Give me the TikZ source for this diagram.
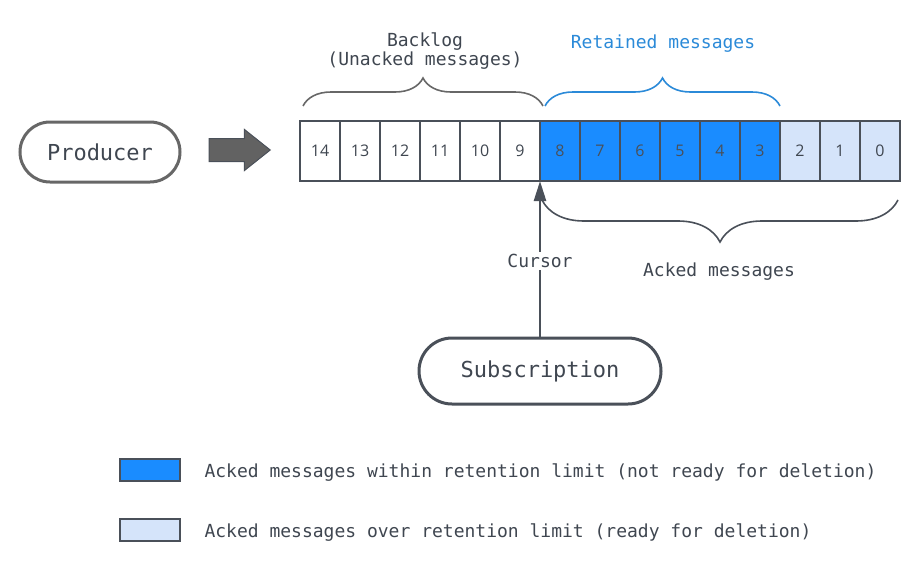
\documentclass[tikz,border=0pt]{standalone}
\usepackage{fontspec}
\setmonofont{DejaVu Sans Mono}
\newfontfamily\numfont{Open Sans}
\usetikzlibrary{arrows.meta,positioning,shapes.arrows,decorations.pathreplacing}
\definecolor{ink}{HTML}{3F4650}
\definecolor{edge}{HTML}{4A5059}
\definecolor{softedge}{HTML}{676767}
\definecolor{retblue}{HTML}{1A8CFF}
\definecolor{oldblue}{HTML}{D5E4FA}
\definecolor{labelblue}{HTML}{2B8AD8}
\tikzset{
  cell/.style={draw=edge, line width=2pt, fill=white, minimum width=40pt, minimum height=60pt, inner sep=0pt, outer sep=0pt, font=\numfont\fontsize{16}{18}\selectfont, text=ink},
  kept/.style={cell, fill=retblue, text=edge},
  expired/.style={cell, fill=oldblue},
  client/.style={draw=edge, line width=3pt, rounded corners=30pt, inner sep=0pt, font=\ttfamily\fontsize{22}{24}\selectfont, text=ink},
  label/.style={font=\ttfamily\fontsize{18}{17}\selectfont, text=ink, align=center},
  brace/.style={decorate, decoration={brace, amplitude=#1}, line width=1.6pt},
  arrow/.style={-{Triangle[length=20pt,width=12pt]}, line width=2.5pt, draw=edge},
}

\begin{document}
\begin{tikzpicture}[x=1pt, y=-1pt]
  \useasboundingbox (0,0) rectangle (920,581);

  \node[client, draw=softedge, minimum width=160pt, minimum height=60pt] (producer) at (100,152) {Producer};
  \node[single arrow, fill=softedge!95!black, draw=edge, line width=1pt, inner xsep=0pt, inner ysep=11pt,
        minimum height=61pt, single arrow head extend=9pt, single arrow tip angle=77] (feed) at (232.5,150) {};

  % Message log
  \foreach \n in {14,13,...,9}
    \node[cell] (c\n) at ({880-40*\n},151) {\n};
  \foreach \n in {8,7,...,3}
    \node[kept] (c\n) at ({880-40*\n},151) {\n};
  \foreach \n in {2,1,0}
    \node[expired] (c\n) at ({880-40*\n},151) {\n};

  % Braces
  \draw[brace=28pt, draw=softedge] ([xshift=3pt, yshift=15pt]c14.north west) -- ([xshift=3pt, yshift=15pt]c9.north east);
  \draw[brace=28pt, draw=labelblue] ([xshift=5pt, yshift=15pt]c8.north west) -- ([yshift=15pt]c3.north east);
  \draw[brace=42pt, draw=edge] ([xshift=-2pt, yshift=-19pt]c0.south east) -- ([xshift=2pt, yshift=-19pt]c9.south east);

  \node[label] (backlog) at (425,51) {Backlog\\(Unacked messages)};
  \node[label, text=labelblue] (retained) at (663,44) {Retained messages};
  \node[label] (acked) at (719,272) {Acked messages};

  % Subscription and cursor
  \node[client, rounded corners=33pt, minimum width=242pt, minimum height=66pt] (sub) at (540,371) {Subscription};
  \draw[arrow] (sub) -- (c9.south east) node[label, midway, yshift=-2pt, fill=white, inner sep=2pt] (cursor) {Cursor};

  % Legend
  \node[kept, minimum width=60pt, minimum height=22pt] (keyret) at (150,470) {};
  \node[label, anchor=west, right=21pt of keyret, yshift=-3pt] (keyrettext) {Acked messages within retention limit (not ready for deletion)};
  \node[expired, minimum width=60pt, minimum height=22pt] (keyold) at (150,530) {};
  \node[label, anchor=west, right=21pt of keyold, yshift=-3pt] (keyoldtext) {Acked messages over retention limit (ready for deletion)};
\end{tikzpicture}
\end{document}
